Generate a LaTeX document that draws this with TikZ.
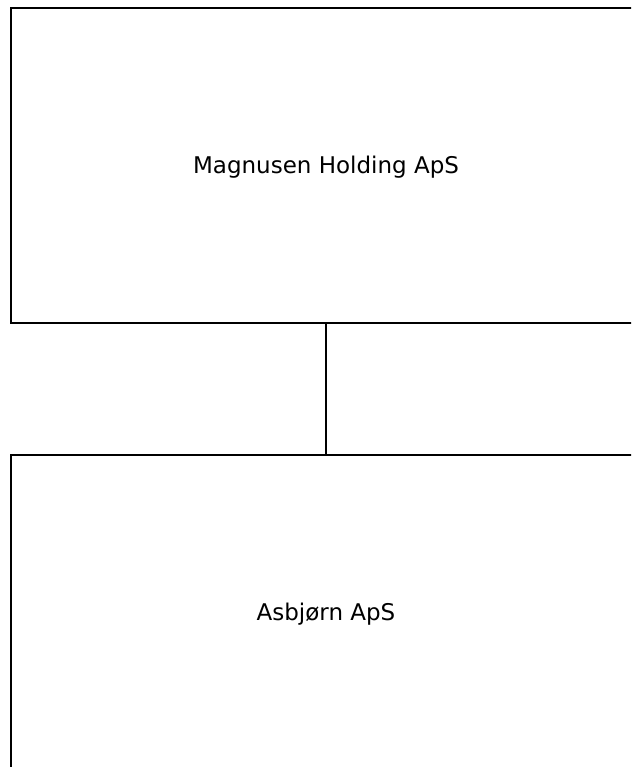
\documentclass[tikz,border=0pt]{standalone}
\usepackage{fontspec}
\setmainfont{DejaVu Sans}
\begin{document}
\begin{tikzpicture}[x=1pt,y=-1pt,
  entity/.style={draw=black,line width=2.6pt,minimum width=630pt,minimum height=315pt,inner sep=0pt,font=\fontsize{23}{28}\selectfont},
  link/.style={draw=black,line width=2.6pt}]
\useasboundingbox (0,0) rectangle (631,767);
\clip (0,0) rectangle (631,767);
\node[entity] (top) at (326,165.5) {};
\node at (326,167) [font=\fontsize{23}{28}\selectfont] (toplabel) {Magnusen Holding ApS};
\node[entity] (bot) at (326,612.5) {};
\node at (326,614) [font=\fontsize{23}{28}\selectfont] (botlabel) {Asbjørn ApS};
\draw[link] (top.south) -- (bot.north);
\end{tikzpicture}
\end{document}
